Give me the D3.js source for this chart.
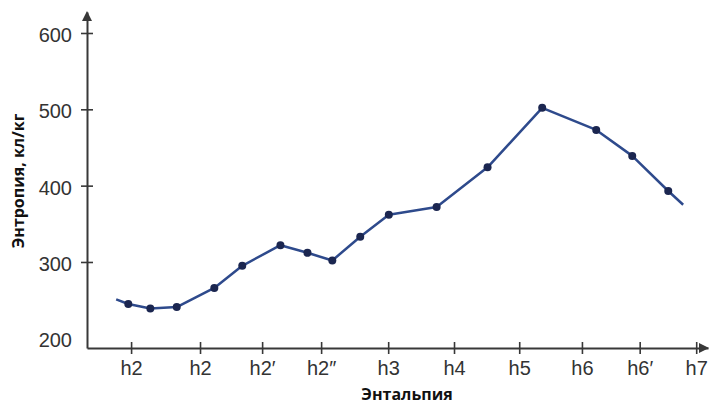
<!DOCTYPE html>
<html>
<head>
<meta charset="utf-8">
<script src="https://cdn.jsdelivr.net/npm/d3@7"></script>
<style>
  body { margin: 0; background: #fff; }
  svg { display: block; }
</style>
</head>
<body>
<div id="chart"></div>
<script>
// enthalpy axis: tick positions (arbitrary units) and their labels
const xTicks = [0.71, 1.82, 2.82, 3.77, 4.85, 5.91, 6.96, 7.97, 8.90, 9.81];
const xLabels = ["h2", "h2", "h2\u2032", "h2\u2033", "h3", "h4", "h5", "h6", "h6\u2032", "h7"];

// entropy curve
const curveX = [0.47, 0.665, 1.02, 1.445, 2.05, 2.50, 3.115, 3.55, 3.95, 4.40, 4.86, 5.63, 6.45, 7.33, 8.20, 8.78, 9.36, 9.60];
const curveY = [251, 245, 239, 241, 266, 295, 322, 312, 302, 333, 362, 372, 424, 502, 473, 439, 393, 375];
// the two curve ends carry no marker
const markerIdx = d3.range(1, curveX.length - 1);

const yTicks = [200, 300, 400, 500, 600];

const width = 710,
  height = 405,
  margin = ({ top: 12, right: 2, bottom: 57, left: 87 });

const x = d3.scaleLinear()
  .domain([0, 10])
  .range([margin.left, width - margin.right]);

const y = d3.scaleLinear()
  .domain([187.3, 627.5])
  .range([height - margin.bottom, margin.top]);

const svg = d3.select("#chart")
  .append("svg")
  .attr("width", width)
  .attr("height", height)
  .attr("viewBox", [0, 0, width, height]);

const axisColor = "#383838";

// x axis
const gx = svg.append("g")
  .attr("transform", `translate(0,${y(187.3)})`)
  .call(d3.axisBottom(x)
    .tickValues(xTicks)
    .tickFormat((d, i) => xLabels[i])
    .tickSizeOuter(0)
    .tickPadding(7));

gx.select(".domain").attr("stroke", axisColor).attr("stroke-width", 2);
gx.selectAll(".tick line")
  .attr("y1", -6).attr("y2", 6)
  .attr("stroke", axisColor).attr("stroke-width", 1.6);
gx.selectAll(".tick text")
  .attr("fill", "#333")
  .attr("font-family", "Liberation Sans, Arial, sans-serif")
  .attr("font-size", 20);

// y axis
const gy = svg.append("g")
  .attr("transform", `translate(${x(0)},0)`)
  .call(d3.axisLeft(y)
    .tickValues(yTicks)
    .tickSizeOuter(0)
    .tickPadding(9));

gy.select(".domain").attr("stroke", axisColor).attr("stroke-width", 2);
gy.selectAll(".tick line")
  .attr("x1", -6).attr("x2", 6)
  .attr("stroke", axisColor).attr("stroke-width", 1.6);
gy.selectAll(".tick").filter(d => d === 200).select("line").remove();
gy.selectAll(".tick text")
  .attr("fill", "#333")
  .attr("dy", "0.42em")
  .attr("font-family", "Liberation Sans, Arial, sans-serif")
  .attr("font-size", 20);

// arrow heads
const ax = x(10), ay = y(187.3);
svg.append("path")
  .attr("d", `M${ax + 1},${ay} L${ax - 9},${ay - 5} L${ax - 9},${ay + 5} Z`)
  .attr("fill", axisColor);
const tx = x(0), ty = y(627.5);
svg.append("path")
  .attr("d", `M${tx},${ty - 1} L${tx - 5},${ty + 9} L${tx + 5},${ty + 9} Z`)
  .attr("fill", axisColor);

// curve
const pts = curveX.map((d, i) => [d, curveY[i]]);

svg.append("path")
  .datum(pts)
  .attr("fill", "none")
  .attr("stroke", "#2e4a8c")
  .attr("stroke-width", 2.5)
  .attr("stroke-linejoin", "round")
  .attr("d", d3.line().x(d => x(d[0])).y(d => y(d[1])));

svg.append("g")
  .selectAll("circle")
  .data(markerIdx.map(i => pts[i]))
  .join("circle")
  .attr("cx", d => x(d[0]))
  .attr("cy", d => y(d[1]))
  .attr("r", 4)
  .attr("fill", "#1b2650");

// axis titles
svg.append("text")
  .attr("x", 407)
  .attr("y", 400)
  .attr("text-anchor", "middle")
  .attr("font-family", "Open Sans, sans-serif")
  .attr("font-weight", "bold")
  .attr("font-size", 16)
  .attr("fill", "#111")
  .text("Энтальпия");

svg.append("text")
  .attr("transform", "translate(24,181) rotate(-90)")
  .attr("text-anchor", "middle")
  .attr("font-family", "Open Sans, sans-serif")
  .attr("font-weight", "bold")
  .attr("font-size", 16)
  .attr("fill", "#111")
  .text("Энтропия, кл/кг");
</script>
</body>
</html>
